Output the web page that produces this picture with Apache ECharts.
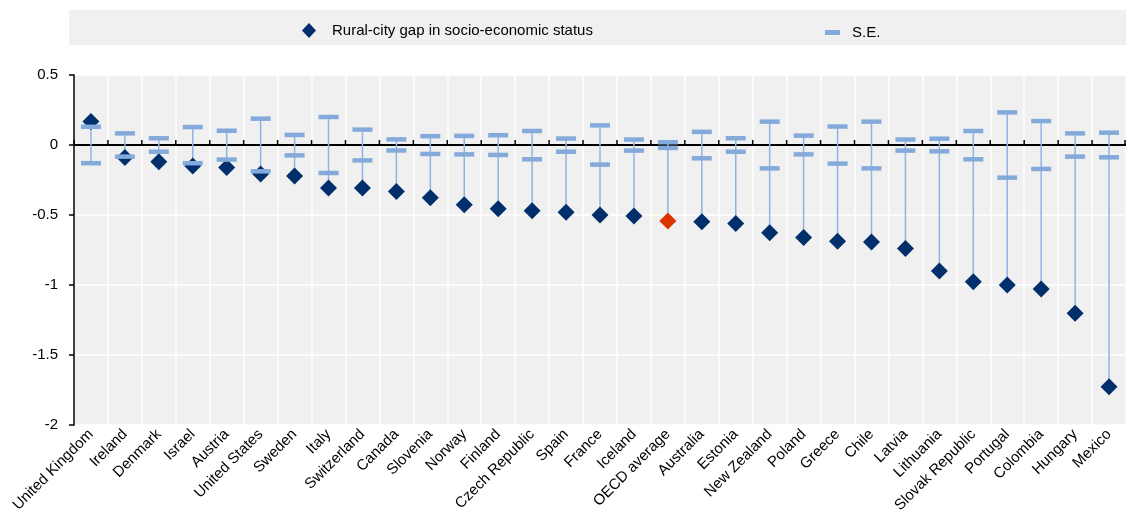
<!DOCTYPE html>
<html>
<head>
<meta charset="utf-8">
<script src="https://cdn.jsdelivr.net/npm/echarts@6/dist/echarts.min.js"></script>
<style>
html,body{margin:0;padding:0;background:#fff;}
#chart{width:1126px;height:515px;}
</style>
</head>
<body>
<div id="chart"></div>
<script>
const categories = ['United Kingdom','Ireland','Denmark','Israel','Austria','United States','Sweden','Italy','Switzerland','Canada','Slovenia','Norway','Finland','Czech Republic','Spain','France','Iceland','OECD average','Australia','Estonia','New Zealand','Poland','Greece','Chile','Latvia','Lithuania','Slovak Republic','Portugal','Colombia','Hungary','Mexico'];
const gapValues = [0.167,-0.09,-0.119,-0.15,-0.16,-0.207,-0.221,-0.307,-0.307,-0.333,-0.376,-0.426,-0.455,-0.469,-0.481,-0.5,-0.507,-0.543,-0.548,-0.56,-0.626,-0.66,-0.688,-0.693,-0.74,-0.9,-0.976,-1.0,-1.029,-1.202,-1.726];
const seUpper = [0.13,0.083,0.048,0.128,0.102,0.188,0.072,0.2,0.11,0.04,0.063,0.065,0.07,0.1,0.046,0.14,0.039,0.02,0.094,0.048,0.167,0.067,0.132,0.167,0.039,0.045,0.1,0.233,0.171,0.083,0.088];
const seLower = [-0.13,-0.083,-0.048,-0.13,-0.104,-0.188,-0.074,-0.2,-0.11,-0.039,-0.064,-0.067,-0.071,-0.102,-0.048,-0.14,-0.04,-0.021,-0.095,-0.048,-0.167,-0.067,-0.133,-0.167,-0.04,-0.045,-0.102,-0.233,-0.171,-0.083,-0.088];
const yTicks = {min:-2, max:0.5, interval:0.5};
const highlight = 'OECD average';

const NAVY = '#002F6C', RED = '#DD3300', CAP = '#84AADB', STEM = '#8FB4E3';
const FONT = 'Liberation Sans, Arial, sans-serif';

const chart = echarts.init(document.getElementById('chart'), null, {renderer:'canvas'});

const stemData = categories.map((c,i)=>[i, Math.max(seUpper[i], gapValues[i]), Math.min(seLower[i], gapValues[i])]);
const gapData = categories.map((c,i)=>{
  const d = {value:[i, gapValues[i]]};
  if (c === highlight) d.itemStyle = {color:RED, opacity:1};
  return d;
});

const option = {
  animation:false,
  textStyle:{fontFamily:FONT},
  graphic:[{type:'rect', left:69, top:10, shape:{width:1057, height:35}, style:{fill:'#f0f0f0'}, z:-10}],
  legend:[
    {data:[{name:'Rural-city gap in socio-economic status', icon:'diamond'}], left:302, top:23, padding:0, itemWidth:14, itemHeight:15, itemGap:0,
     textStyle:{fontFamily:FONT, fontSize:15, color:'#000', padding:[0,0,0,11]}},
    {data:[{name:'S.E.', icon:'rect'}], left:825, top:25, padding:0, itemWidth:15, itemHeight:5, itemGap:0,
     textStyle:{fontFamily:FONT, fontSize:15, color:'#000', padding:[0,0,0,7]}}
  ],
  grid:{left:74, right:0, top:75, height:350, show:true, backgroundColor:'#f0f0f0', borderWidth:0,
        containLabel:false, outerBoundsMode:'none'},
  xAxis:{type:'category', data:categories, position:'bottom', boundaryGap:true,
     axisLine:{show:false, onZero:false}, axisTick:{show:false},
     splitLine:{show:true, interval:0, lineStyle:{color:'#ffffff', width:1.5}},
     axisLabel:{rotate:45, fontSize:15, color:'#000', fontFamily:FONT, margin:7, interval:0}},
  yAxis:{type:'value', min:yTicks.min, max:yTicks.max, interval:yTicks.interval,
    axisLine:{show:true, lineStyle:{color:'#000', width:1.5}},
    axisTick:{show:true, length:5, lineStyle:{color:'#000', width:1.5}},
    splitLine:{show:true, lineStyle:{color:'#ffffff', width:1.5}},
    axisLabel:{fontSize:15, color:'#000', fontFamily:FONT, margin:16}},
  series:[
    {type:'custom', name:'stem', z:3, silent:true, clip:false,
     encode:{x:0, y:[1,2]}, data:stemData,
     markLine:{silent:true, symbol:'none', label:{show:false}, animation:false, z:1,
       lineStyle:{color:'#000', width:2, type:'solid'}, data:[{yAxis:0}]},
     renderItem:function(params, api){
       const idx = api.value(0);
       const p1 = api.coord([idx, api.value(1)]);
       const p2 = api.coord([idx, api.value(2)]);
       const z0 = api.coord([idx, 0]);
       const bw = api.size([1,0])[0];
       const children = [{type:'line', z2:1, shape:{x1:p1[0], y1:p1[1], x2:p2[0], y2:p2[1]}, style:{stroke:STEM, lineWidth:1.5}}];
       const xs = [z0[0]-bw/2];
       if (params.dataIndex === categories.length-1) xs.push(z0[0]+bw/2-1);
       xs.forEach(x=>children.push({type:'line', z2:5, shape:{x1:x, y1:z0[1], x2:x, y2:z0[1]-5}, style:{stroke:'#000', lineWidth:1.5}}));
       return {type:'group', children:children};
     }},
    {type:'scatter', name:'Rural-city gap in socio-economic status', z:4,
     symbol:'diamond', symbolSize:17, itemStyle:{color:NAVY, opacity:1}, data:gapData},
    {type:'scatter', name:'S.E.', z:5, symbol:'rect', symbolSize:[20,4.5],
     itemStyle:{color:CAP, opacity:1}, data:categories.map((c,i)=>[i, seUpper[i]])},
    {type:'scatter', name:'S.E.', z:5, symbol:'rect', symbolSize:[20,4.5],
     itemStyle:{color:CAP, opacity:1}, data:categories.map((c,i)=>[i, seLower[i]])}
  ]
};
chart.setOption(option);
</script>
</body>
</html>
